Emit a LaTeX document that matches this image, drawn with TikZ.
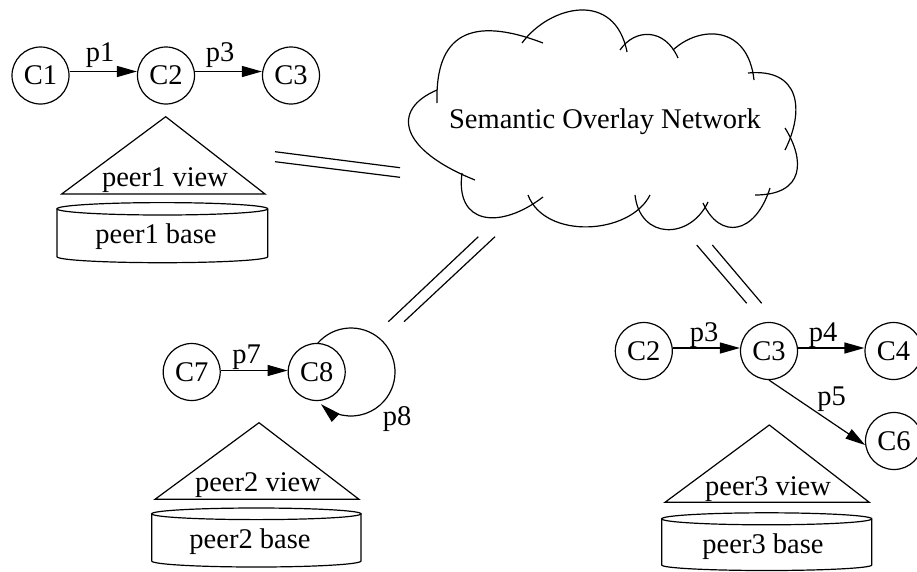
\documentclass[tikz,border=0pt]{standalone}
\usepackage{fontspec}
\setmainfont{Liberation Serif}
\usetikzlibrary{arrows.meta}
\begin{document}
\begin{tikzpicture}[x=1pt,y=-1pt, line width=1.2pt,
  every node/.style={font=\fontsize{28.5}{34}\selectfont, inner sep=0pt},
  cnode/.style={draw, circle, minimum size=57pt, inner sep=0pt},
  lbl/.style={anchor=base},
  arr/.style={-{Triangle[length=20pt,width=11pt]}}]
\useasboundingbox (0,0) rectangle (917,571);

% ---------- cloud ----------
\draw (437,103) .. controls (435,35) and (470,15) .. (543,43);
\draw (522,43) .. controls (550,5) and (615,-10) .. (627,52);
\draw (620,50) .. controls (635,28) and (665,28) .. (678,58);
\draw (673,50) .. controls (700,25) and (748,25) .. (754,80);
\draw (748,73) .. controls (800,68) and (805,110) .. (785,150);
\draw (785,128) .. controls (805,160) and (805,195) .. (755,195);
\draw (770,188) .. controls (755,235) and (720,240) .. (703,203);
\draw (708,202) .. controls (690,240) and (640,240) .. (635,195);
\draw (650,195) .. controls (630,235) and (545,240) .. (528,195);
\draw (543,197) .. controls (500,230) and (455,225) .. (462,173);
\draw (475,180) .. controls (400,150) and (390,110) .. (437,90);
\node[lbl] (son) at (605,128.3) {Semantic Overlay Network};

% ---------- double links ----------
\coordinate (a1) at (275,151.7);   \coordinate (a2) at (400,167.7);
\coordinate (b1) at (275,161.7);   \coordinate (b2) at (400,177.3);
\coordinate (c1) at (388.3,321.7); \coordinate (c2) at (478.3,236.7);
\coordinate (d1) at (404,321.7);   \coordinate (d2) at (495,236.7);
\coordinate (e1) at (696.7,245);   \coordinate (e2) at (746.7,303.3);
\coordinate (f1) at (712.3,245);   \coordinate (f2) at (761.7,303.3);
\draw (a1) -- (a2); \draw (b1) -- (b2);
\draw (c1) -- (c2); \draw (d1) -- (d2);
\draw (e1) -- (e2); \draw (f1) -- (f2);

% ---------- peer 1 ----------
\node[cnode] (p1c1) at (40.5,75.5) {C1};
\node[cnode] (p1c2) at (166,75.5) {C2};
\node[cnode] (p1c3) at (291,75.5) {C3};
\draw[arr] ([yshift=4pt]p1c1.east) -- ([yshift=4pt]p1c2.west);
\draw[arr] ([yshift=4pt]p1c2.east) -- ([yshift=4pt]p1c3.west);
\node[lbl] (l11) at (100,61.7) {p1};
\node[lbl] (l13) at (220,61.7) {p3};
\draw (61.7,194) -- (165.7,116.7) -- (265,194) -- cycle;
\node[lbl] (v1) at (165,186.7) {peer1 view};
\draw (162.35,208.8) ellipse[x radius=105.35, y radius=6.2];
\draw (57,208.8) -- (57,256.7) arc[start angle=180, end angle=360, x radius=105.35pt, y radius=6pt] -- (267.7,208.8);
\node[lbl] (b1n) at (156,243.3) {peer1 base};

% ---------- peer 2 ----------
\node[cnode] (p2c7) at (191.7,372) {C7};
\node[cnode] (p2c8) at (316.7,372) {C8};
\draw[arr] ([yshift=1.5pt]p2c7.east) -- ([yshift=1.5pt]p2c8.west);
\node[lbl] (l27) at (246.7,363.3) {p7};
\coordinate (loopc) at (351,372);
\draw[arr] ([shift={(139:44pt)}]loopc) arc[start angle=139, end angle=-133, radius=44pt];
\node[lbl] (l28) at (397,425) {p8};
\draw (155,499.3) -- (259,422.7) -- (359,499.3) -- cycle;
\node[lbl] (v2) at (258,491.7) {peer2 view};
\draw (256.35,513.8) ellipse[x radius=104.65, y radius=5.8];
\draw (151.7,513.8) -- (151.7,561) arc[start angle=180, end angle=360, x radius=104.65pt, y radius=6pt] -- (361,513.8);
\node[lbl] (b2n) at (250,548.3) {peer2 base};

% ---------- peer 3 ----------
\node[cnode] (p3c2) at (643.8,351) {C2};
\node[cnode] (p3c3) at (769,351) {C3};
\node[cnode] (p3c4) at (893.5,351) {C4};
\node[cnode] (p3c6) at (894,441) {C6};
\draw[arr] ([yshift=3pt]p3c2.east) -- ([yshift=3pt]p3c3.west);
\draw[arr] ([yshift=3pt]p3c3.east) -- ([yshift=3pt]p3c4.west);
\draw[arr] (p3c3.south) -- (p3c6.188);
\node[lbl] (l33) at (704,341.7) {p3};
\node[lbl] (l34) at (823,341.7) {p4};
\node[lbl] (l35) at (831.7,405) {p5};
\draw (665,502.3) -- (769.3,425) -- (869.3,502.3) -- cycle;
\node[lbl] (v3) at (768,495) {peer3 view};
\draw (766.7,518.8) ellipse[x radius=105, y radius=6];
\draw (661.7,518.8) -- (661.7,565) arc[start angle=180, end angle=360, x radius=105pt, y radius=5.5pt] -- (871.7,518.8);
\node[lbl] (b3n) at (763,553.3) {peer3 base};
\end{tikzpicture}
\end{document}
